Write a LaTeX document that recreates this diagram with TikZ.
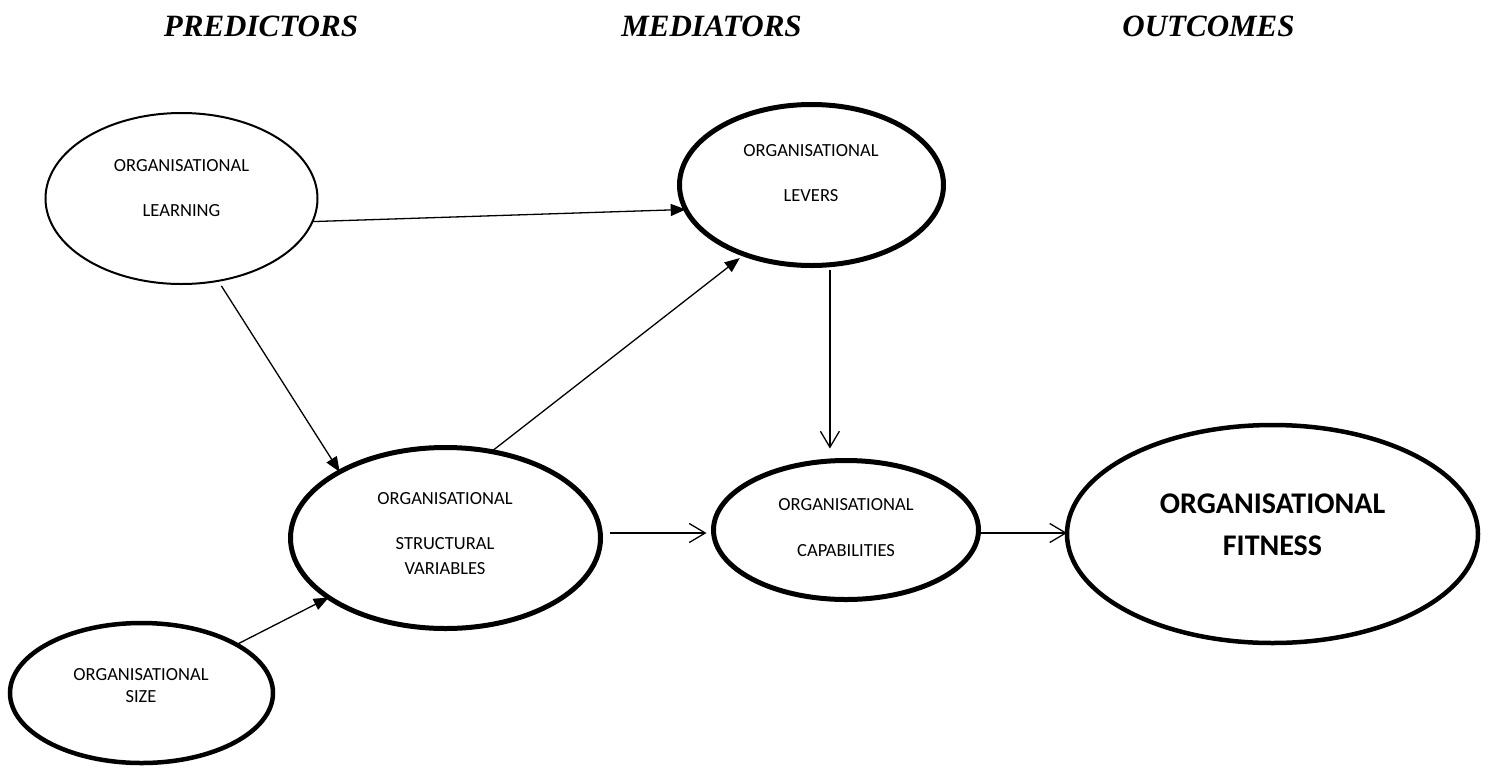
\documentclass[tikz,border=0pt]{standalone}
\usepackage{fontspec}
\setmainfont{Carlito}
\newfontfamily\headfont{Liberation Serif}
\usetikzlibrary{shapes.geometric,arrows.meta}
\begin{document}
\begin{tikzpicture}[x=1pt,y=-1pt,
  oval/.style={ellipse,draw,line width=5pt,inner sep=0pt,outer sep=0pt},
  lbl/.style={font=\fontsize{18.5}{22.5}\selectfont,align=center,anchor=base,inner sep=0pt},
  biglbl/.style={font=\bfseries\fontsize{30}{42}\selectfont,align=center,anchor=base,inner sep=0pt},
  head/.style={font=\headfont\bfseries\itshape\fontsize{31}{36}\selectfont,anchor=base,inner sep=0pt},
  link/.style={line width=1.3pt,-{Triangle[length=15pt,width=12pt]}},
  vlink/.style={line width=1.3pt,-{Straight Barb[length=16pt,width=19pt]}}
]
\useasboundingbox[fill=white] (0,0) rectangle (1491,769);

% column headings
\node[head] (hpred) at (261,36.7) {PREDICTORS};
\node[head] (hmed)  at (711.5,36.7) {MEDIATORS};
\node[head] (hout)  at (1208.5,36.7) {OUTCOMES};

% constructs
\node[oval,line width=2pt,minimum width=272pt,minimum height=171pt] (learn) at (181.5,198.5) {};
\node[oval,minimum width=264pt,minimum height=161pt] (lev) at (811.5,185) {};
\node[oval,minimum width=310pt,minimum height=181pt] (struct) at (445.5,538) {};
\node[oval,minimum width=265pt,minimum height=139pt] (cap) at (846,530) {};
\node[oval,line width=4.5pt,minimum width=411pt,minimum height=218pt] (fit) at (1272.5,534) {};
\node[oval,line width=4.5pt,minimum width=263pt,minimum height=140pt] (size) at (141.5,693) {};

% construct names (placed by the baseline of their last line)
\node[lbl] (learnT) at (181.5,216) {ORGANISATIONAL\\[22.5pt]LEARNING};
\node[lbl] (levT) at (811,201.7) {ORGANISATIONAL\\[22.5pt]LEVERS};
\node[lbl] (structT) at (445,574) {ORGANISATIONAL\\[22.5pt]STRUCTURAL\\[2.2pt]VARIABLES};
\node[lbl] (capT) at (846,556.7) {ORGANISATIONAL\\[23.5pt]CAPABILITIES};
\node[lbl] (sizeT) at (141,702.3) {ORGANISATIONAL\\[-1pt]SIZE};
\node[biglbl] (fitT) at (1272.5,555) {ORGANISATIONAL\\FITNESS};

% paths
\draw[link] (learn.-10) -- (lev.191.7);
\draw[link,shorten <=6pt] (learn.-66) -- (struct.148);
\draw[link,shorten >=6pt] (struct.62) -- (lev.226);
\draw[link] (size.27) -- (struct.207);
\draw[vlink,shorten <=5pt,shorten >=12pt] (lev.-77) -- (lev.-77 |- cap.north);
\draw[vlink,shorten <=9pt,shorten >=7pt] ([yshift=5pt]struct.east) -- ([yshift=5pt]struct.east -| cap.west);
\draw[vlink] ([yshift=-3pt]cap.east) -- ([yshift=-3pt]cap.east -| fit.west);
\end{tikzpicture}
\end{document}
